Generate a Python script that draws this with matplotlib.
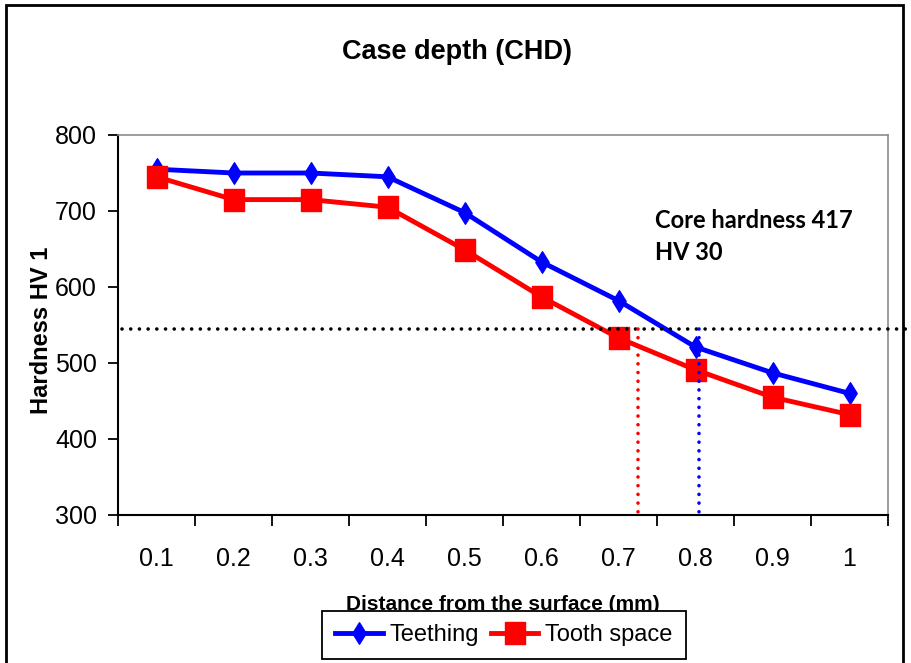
import matplotlib
matplotlib.use("Agg")
import matplotlib.pyplot as plt
from matplotlib.path import Path
from matplotlib.patches import Rectangle
from matplotlib.lines import Line2D
from matplotlib import font_manager

# --- data -------------------------------------------------------------
depth_labels = ["0.1", "0.2", "0.3", "0.4", "0.5", "0.6", "0.7", "0.8", "0.9", "1"]
teething = [755, 750, 750, 745, 698, 633, 582, 521, 487, 460]
tooth_space = [745, 715, 715, 705, 649, 587, 533, 491, 455, 432]
y_ticks = [300, 400, 500, 600, 700, 800]

core_limit = 545            # hardness limit defining the case depth
chd_tooth_space = 0.725     # mm
chd_teething = 0.805        # mm

# --- fonts ------------------------------------------------------------
installed = {f.name for f in font_manager.fontManager.ttflist}
narrow = "Liberation Sans Narrow" if "Liberation Sans Narrow" in installed else "Liberation Sans"
regular = "Liberation Sans"
calibri_like = "Lato" if "Lato" in installed else "DejaVu Sans"

W, H = 912, 663
fig = plt.figure(figsize=(W / 100, H / 100), dpi=100)
fig.patch.set_facecolor("white")

# plot area in pixel terms
left, right, top, bottom = 118, 888, 135, 515
ax = fig.add_axes([left / W, 1 - bottom / H, (right - left) / W, (bottom - top) / H])

x = list(range(len(depth_labels)))

diamond = Path([(0, 1), (0.62, 0), (0, -1), (-0.62, 0), (0, 1)],
               [Path.MOVETO, Path.LINETO, Path.LINETO, Path.LINETO, Path.CLOSEPOLY])
square = Path([(-0.44, -0.5), (0.44, -0.5), (0.44, 0.5), (-0.44, 0.5), (-0.44, -0.5)],
              [Path.MOVETO, Path.LINETO, Path.LINETO, Path.LINETO, Path.CLOSEPOLY])

blue = "#0000FF"
red = "#FF0000"
lw_series = 3.5

ax.plot(x, teething, color=blue, lw=lw_series, marker=diamond, ms=15.5,
        markerfacecolor=blue, markeredgecolor=blue, label="Teething", zorder=3)
ax.plot(x, tooth_space, color=red, lw=lw_series, marker=square, ms=16,
        markerfacecolor=red, markeredgecolor=red, label="Tooth space", zorder=4)

ax.set_xlim(-0.5, len(depth_labels) - 0.5)
ax.set_ylim(300, 800)

# case-depth construction lines (round dots)
def depth_pos(mm):
    return (mm - 0.1) / 0.1

dots = (0, (0.01, 2.4))
ax.plot([-0.45, 9.79], [core_limit, core_limit], linestyle=dots, color="black",
        lw=2.6, dash_capstyle="round", clip_on=False, zorder=5)
ax.plot([depth_pos(chd_tooth_space)] * 2, [core_limit, 293], linestyle=dots,
        color=red, lw=2.6, dash_capstyle="round", clip_on=False, zorder=5)
ax.plot([depth_pos(chd_teething)] * 2, [core_limit, 293], linestyle=dots,
        color=blue, lw=2.6, dash_capstyle="round", clip_on=False, zorder=5)

# axes styling
for side in ("left", "bottom"):
    ax.spines[side].set_color("black")
    ax.spines[side].set_linewidth(1.5)
for side in ("top", "right"):
    ax.spines[side].set_color("#8c8c8c")
    ax.spines[side].set_linewidth(1.2)

ax.set_yticks(y_ticks)
ax.set_yticklabels([str(v) for v in y_ticks], fontfamily=narrow, fontsize=18)
ax.tick_params(axis="y", direction="out", length=7.2, width=1.3, pad=8, colors="black")

ax.set_xticks([i - 0.5 for i in range(len(depth_labels) + 1)])
ax.set_xticklabels([])
ax.set_xticks(x, minor=True)
ax.set_xticklabels(depth_labels, minor=True, fontfamily=narrow, fontsize=18)
ax.tick_params(axis="x", which="major", direction="out", length=8, width=1.3)
ax.tick_params(axis="x", which="minor", length=0, pad=23)

# titles and labels
fig.text(457 / W, 1 - 52 / H, "Case depth (CHD)", ha="center", va="center",
         fontsize=19.5, fontweight="bold", fontfamily=regular)
fig.text(42 / W, 1 - 330 / H, "Hardness HV 1", ha="center", va="center",
         rotation=90, fontsize=17, fontweight="bold", fontfamily=regular)
fig.text(503 / W, 1 - 605 / H, "Distance from the surface (mm)", ha="center",
         va="center", fontsize=15, fontweight="bold", fontfamily=regular)

fig.text(655 / W, 1 - 228 / H, "Core hardness 417", ha="left", va="baseline",
         fontsize=17, fontweight="bold", fontfamily=calibri_like)
fig.text(655 / W, 1 - 260 / H, "HV 30", ha="left", va="baseline",
         fontsize=17, fontweight="bold", fontfamily=calibri_like)

# legend
handles = [
    Line2D([], [], color=blue, lw=lw_series, marker=diamond, ms=15.5,
           markerfacecolor=blue, markeredgecolor=blue),
    Line2D([], [], color=red, lw=lw_series, marker=square, ms=16,
           markerfacecolor=red, markeredgecolor=red),
]
leg = fig.legend(handles, ["Teething", "Tooth space"], loc="center",
                 bbox_to_anchor=(504 / W, 1 - 635 / H), ncol=2, numpoints=1,
                 frameon=True, fancybox=False, framealpha=1, edgecolor="black",
                 borderpad=0.55, handlelength=2.0, handletextpad=0.3,
                 columnspacing=0.5, prop={"family": narrow, "size": 17})
leg.get_frame().set_linewidth(1.3)
leg.set_zorder(10)

# outer chart border
fig.patches.append(Rectangle((6 / W, -0.05), (903 - 6) / W, (1 - 5 / H) + 0.05,
                             transform=fig.transFigure, fill=False,
                             edgecolor="black", lw=2, zorder=20))

fig.savefig("out.png", dpi=100, facecolor="white")
